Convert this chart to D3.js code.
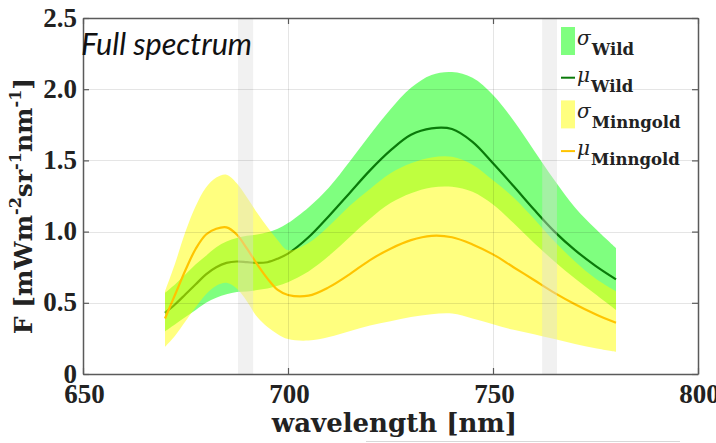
<!DOCTYPE html>
<html>
<head>
<meta charset="utf-8">
<script src="https://cdn.jsdelivr.net/npm/d3@7/dist/d3.min.js"></script>
<style>
  html, body { margin: 0; padding: 0; background: #fff; }
  svg { display: block; }
</style>
</head>
<body>
<svg id="chart" width="716" height="443"></svg>
<script>
// ---------------- data ----------------
const wavelength = [670, 672.5, 675, 677.5, 680, 682.5, 685, 687.5, 690, 692.5, 695, 697.5, 700,
  705, 710, 715, 720, 725, 730, 735, 740, 745, 750, 755, 760, 765, 770, 775, 780];

const wildMean = [0.43, 0.49, 0.56, 0.63, 0.70, 0.75, 0.78, 0.79, 0.785, 0.78, 0.785, 0.81, 0.845,
  0.96, 1.11, 1.27, 1.43, 1.57, 1.68, 1.725, 1.72, 1.63, 1.48, 1.32, 1.155, 1.00, 0.87, 0.76, 0.665];
const wildUpper = [0.57, 0.63, 0.70, 0.77, 0.83, 0.89, 0.93, 0.955, 0.97, 0.98, 0.995, 1.02, 1.06,
  1.17, 1.31, 1.49, 1.68, 1.86, 2.01, 2.10, 2.12, 2.08, 1.96, 1.78, 1.57, 1.36, 1.17, 1.02, 0.885];
const wildLower = [0.30, 0.35, 0.40, 0.45, 0.50, 0.535, 0.56, 0.575, 0.58, 0.59, 0.60, 0.62, 0.645,
  0.72, 0.83, 0.96, 1.09, 1.20, 1.27, 1.31, 1.315, 1.28, 1.19, 1.06, 0.92, 0.79, 0.67, 0.56, 0.45];

const minnMean = [0.39, 0.56, 0.73, 0.88, 0.98, 1.02, 1.03, 0.98, 0.88, 0.77, 0.67, 0.59, 0.555,
  0.55, 0.61, 0.70, 0.80, 0.88, 0.94, 0.97, 0.96, 0.91, 0.84, 0.75, 0.66, 0.57, 0.49, 0.42, 0.36];
const minnUpper = [0.58, 0.78, 1.00, 1.18, 1.31, 1.38, 1.40, 1.34, 1.24, 1.13, 1.03, 0.94, 0.87,
  0.92, 1.04, 1.18, 1.30, 1.41, 1.48, 1.52, 1.525, 1.47, 1.36, 1.24, 1.09, 0.93, 0.79, 0.67, 0.58];
const minnLower = [0.19, 0.27, 0.37, 0.47, 0.56, 0.62, 0.64, 0.60, 0.51, 0.40, 0.33, 0.28, 0.245,
  0.235, 0.26, 0.30, 0.34, 0.37, 0.40, 0.42, 0.425, 0.39, 0.35, 0.31, 0.28, 0.245, 0.21, 0.18, 0.155];

const xTicks = [650, 700, 750, 800];
const yTicks = [0, 0.5, 1.0, 1.5, 2.0, 2.5];
const yTickLabels = ["0", "0.5", "1.0", "1.5", "2.0", "2.5"];
const bandStart = [687.8, 762.0];
const bandEnd = [691.5, 765.6];
const legendLabels = [
  { sym: "σ", sub: "Wild", kind: "patch", color: "#00ff00" },
  { sym: "μ", sub: "Wild", kind: "line", color: "#0a7a0a" },
  { sym: "σ", sub: "Minngold", kind: "patch", color: "#ffff00" },
  { sym: "μ", sub: "Minngold", kind: "line", color: "#ffc400" }
];

// ---------------- layout ----------------
const svg = d3.select("#chart");
const L = 83, R = 698, T = 18, B = 374;
const x = d3.scaleLinear().domain([650, 800]).range([L, R]);
const y = d3.scaleLinear().domain([0, 2.5]).range([B, T]);

const rows = wavelength.map((w, i) => ({
  w, wm: wildMean[i], wu: wildUpper[i], wl: wildLower[i],
  mm: minnMean[i], mu: minnUpper[i], ml: minnLower[i]
}));

const curve = d3.curveCatmullRom.alpha(0.5);
const plot = svg.append("g");

// bands
plot.append("path").datum(rows)
  .attr("d", d3.area().curve(curve).x(d => x(d.w)).y0(d => y(d.wl)).y1(d => y(d.wu)))
  .attr("fill", "#00ff00").attr("fill-opacity", 0.5);
plot.append("path").datum(rows)
  .attr("d", d3.line().curve(curve).x(d => x(d.w)).y(d => y(d.wm)))
  .attr("fill", "none").attr("stroke", "#0a7a0a").attr("stroke-width", 2.2);
plot.append("path").datum(rows)
  .attr("d", d3.area().curve(curve).x(d => x(d.w)).y0(d => y(d.ml)).y1(d => y(d.mu)))
  .attr("fill", "#ffff00").attr("fill-opacity", 0.5);
plot.append("path").datum(rows)
  .attr("d", d3.line().curve(curve).x(d => x(d.w)).y(d => y(d.mm)))
  .attr("fill", "none").attr("stroke", "#ffc400").attr("stroke-width", 2.2);

// grey absorption bands
plot.selectAll("rect.band").data(bandStart).enter().append("rect")
  .attr("class", "band")
  .attr("x", (d) => x(d)).attr("width", (d, i) => x(bandEnd[i]) - x(d))
  .attr("y", T).attr("height", B - T)
  .attr("fill", "#dcdcdc").attr("fill-opacity", 0.4);

// grid
const grid = svg.append("g").attr("stroke", "#000").attr("stroke-opacity", 0.1).attr("stroke-width", 1);
grid.selectAll("line.gx").data(xTicks.slice(1, -1)).enter().append("line")
  .attr("x1", d => x(d) + 0.5).attr("x2", d => x(d) + 0.5).attr("y1", T).attr("y2", B);
grid.selectAll("line.gy").data(yTicks.slice(1, -1)).enter().append("line")
  .attr("y1", d => Math.round(y(d)) + 0.5).attr("y2", d => Math.round(y(d)) + 0.5).attr("x1", L).attr("x2", R);

// axes (box with inner ticks)
const axisColor = "#5a5a5a";
const tickFont = "'Liberation Serif', 'Times New Roman', serif";
const xAxisB = d3.axisBottom(x).tickValues(xTicks).tickSizeInner(-6).tickSizeOuter(0).tickFormat(d3.format("d"));
const xAxisT = d3.axisTop(x).tickValues(xTicks).tickSizeInner(-6).tickSizeOuter(0).tickFormat("");
const yAxisL = d3.axisLeft(y).tickValues(yTicks).tickSizeInner(-6).tickSizeOuter(0).tickFormat((d, i) => yTickLabels[i]);
const yAxisR = d3.axisRight(y).tickValues(yTicks).tickSizeInner(-6).tickSizeOuter(0).tickFormat("");

function styleAxis(g) {
  g.select(".domain").attr("stroke", axisColor).attr("stroke-width", 1.5);
  g.selectAll(".tick line").attr("stroke", axisColor).attr("stroke-width", 1.2);
  g.selectAll(".tick text").attr("fill", "#222").attr("font-family", tickFont)
    .attr("font-weight", "bold").attr("font-size", 27);
}
const gxB = svg.append("g").attr("transform", `translate(0,${B})`).call(xAxisB).call(styleAxis);
gxB.selectAll(".tick text").attr("dy", null).attr("y", 29).attr("dx", 1);
svg.append("g").attr("transform", `translate(0,${T})`).call(xAxisT).call(styleAxis);
const gyL = svg.append("g").attr("transform", `translate(${L},0)`).call(yAxisL).call(styleAxis);
gyL.selectAll(".tick text").attr("x", -6).attr("dy", "0.3em");
svg.append("g").attr("transform", `translate(${R},0)`).call(yAxisR).call(styleAxis);

// axis labels
const labelFont = "'DejaVu Serif', serif";
svg.append("text").attr("x", (L + R) / 2 + 4).attr("y", 432)
  .attr("text-anchor", "middle").attr("font-family", labelFont).attr("font-weight", "bold")
  .attr("font-size", 26).attr("fill", "#222").text("wavelength [nm]");

const yl = svg.append("text").attr("transform", "translate(32,206) rotate(-90)")
  .attr("text-anchor", "middle").attr("font-family", labelFont).attr("font-weight", "bold")
  .attr("font-size", 25).attr("fill", "#222");
const ylParts = [["F [mWm", 0], ["-2", 1], ["sr", 0], ["-1", 1], ["nm", 0], ["-1", 1], ["]", 0]];
let prevSup = 0;
ylParts.forEach(([t, sup]) => {
  const ts = yl.append("tspan").text(t);
  if (sup && !prevSup) ts.attr("dy", -11).attr("font-size", 16);
  else if (!sup && prevSup) ts.attr("dy", 11);
  prevSup = sup;
});

// title-like annotation
svg.append("text").attr("x", 81).attr("y", 55)
  .attr("font-family", "Lato, 'Liberation Sans', sans-serif").attr("font-style", "italic")
  .attr("font-size", 30).attr("fill", "#111").attr("textLength", 171).attr("lengthAdjust", "spacingAndGlyphs")
  .text("Full spectrum");

// legend
const lg = svg.append("g");
legendLabels.forEach((d, i) => {
  const cy = 41 + i * 36.7;
  if (d.kind === "patch") {
    lg.append("rect").attr("x", 561).attr("y", cy - 14).attr("width", 14).attr("height", 28)
      .attr("fill", d.color).attr("fill-opacity", 0.5);
  } else {
    lg.append("line").attr("x1", 561).attr("x2", 575).attr("y1", cy).attr("y2", cy)
      .attr("stroke", d.color).attr("stroke-width", 2);
  }
  const t = lg.append("text").attr("x", 577).attr("y", cy + 4).attr("fill", "#222");
  t.append("tspan").attr("font-family", labelFont).attr("font-style", "italic")
    .attr("font-size", 20).text(d.sym);
  t.append("tspan").attr("dx", 1).attr("dy", 10).attr("font-family", labelFont)
    .attr("font-weight", "bold").attr("font-size", 16.5).text(d.sub);
});

// faint residual strip at bottom edge (cropped text in the source)
svg.append("line").attr("x1", 366).attr("x2", 680).attr("y1", 441.5).attr("y2", 441.5)
  .attr("stroke", "#d8d8d8").attr("stroke-width", 1);
</script>
</body>
</html>
